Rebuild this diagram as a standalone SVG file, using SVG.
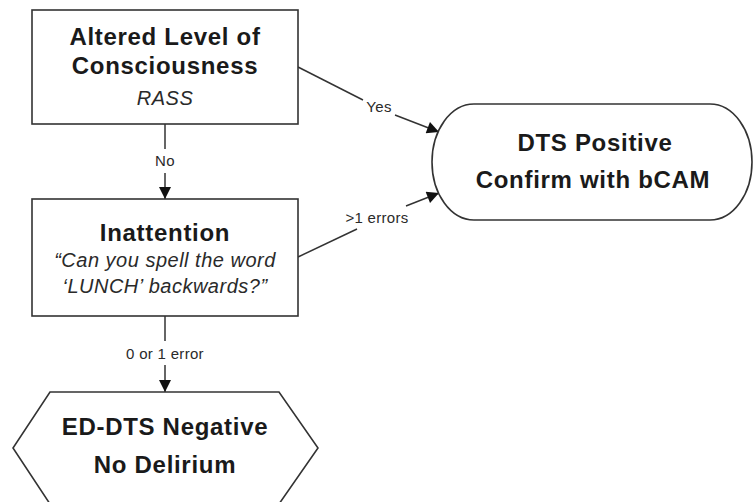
<svg xmlns="http://www.w3.org/2000/svg" width="753" height="502" viewBox="0 0 753 502">
<style>
.box{fill:#fff;stroke:#333;stroke-width:1.6}
.edge{fill:none;stroke:#333;stroke-width:1.5}
.t{font-family:"Liberation Sans",Arial,sans-serif;font-weight:bold;font-size:24px;letter-spacing:0.7px;fill:#1a1a1a;text-anchor:middle}
.i{font-family:"Liberation Sans",Arial,sans-serif;font-style:italic;font-size:20px;letter-spacing:0.5px;fill:#2a2a2a;text-anchor:middle}
.l{font-family:"Liberation Sans",Arial,sans-serif;font-size:15px;letter-spacing:0.3px;fill:#2a2a2a;text-anchor:middle}
</style>
<defs>
<marker id="arr" viewBox="0 0 10 10" refX="10" refY="5" markerWidth="13" markerHeight="12" markerUnits="userSpaceOnUse" orient="auto">
<path d="M0,0 L10,5 L0,10 z" fill="#111"/>
</marker>
</defs>
<rect width="753" height="502" fill="#fff"/>
<g id="connectors">
<line class="edge" x1="165" y1="124" x2="165" y2="149"/>
<line class="edge" x1="165" y1="173" x2="165" y2="199" marker-end="url(#arr)"/>
<text class="l" x="165" y="166">No</text>
<line class="edge" x1="165" y1="316" x2="165" y2="341"/>
<line class="edge" x1="165" y1="365" x2="165" y2="392" marker-end="url(#arr)"/>
<text class="l" x="165" y="359">0 or 1 error</text>
<line class="edge" x1="298" y1="67" x2="363" y2="100"/>
<line class="edge" x1="395" y1="115" x2="439" y2="132" marker-end="url(#arr)"/>
<text class="l" x="379" y="112">Yes</text>
<line class="edge" x1="298" y1="257" x2="357" y2="229"/>
<line class="edge" x1="406" y1="206" x2="439" y2="193" marker-end="url(#arr)"/>
<text class="l" x="377" y="223">&gt;1 errors</text>
</g>
<g id="alc">
<rect class="box" x="32" y="10" width="266" height="114"/>
<text class="t" x="165" y="45">Altered Level of</text>
<text class="t" x="165" y="74">Consciousness</text>
<text class="i" x="165" y="105">RASS</text>
</g>
<g id="inattention">
<rect class="box" x="32" y="199" width="266" height="117"/>
<text class="t" x="165" y="241">Inattention</text>
<text class="i" x="165" y="267">“Can you spell the word</text>
<text class="i" x="165" y="293">‘LUNCH’ backwards?”</text>
</g>
<g id="positive">
<rect class="box" x="432" y="104" width="320" height="116" rx="42" ry="58"/>
<text class="t" x="595" y="151">DTS Positive</text>
<text class="t" x="593" y="188">Confirm with bCAM</text>
</g>
<g id="negative">
<polygon class="box" points="50,392 279,392 318,448 279,504 50,504 13,448"/>
<text class="t" x="165" y="435">ED-DTS Negative</text>
<text class="t" x="165" y="473">No Delirium</text>
</g>
</svg>
